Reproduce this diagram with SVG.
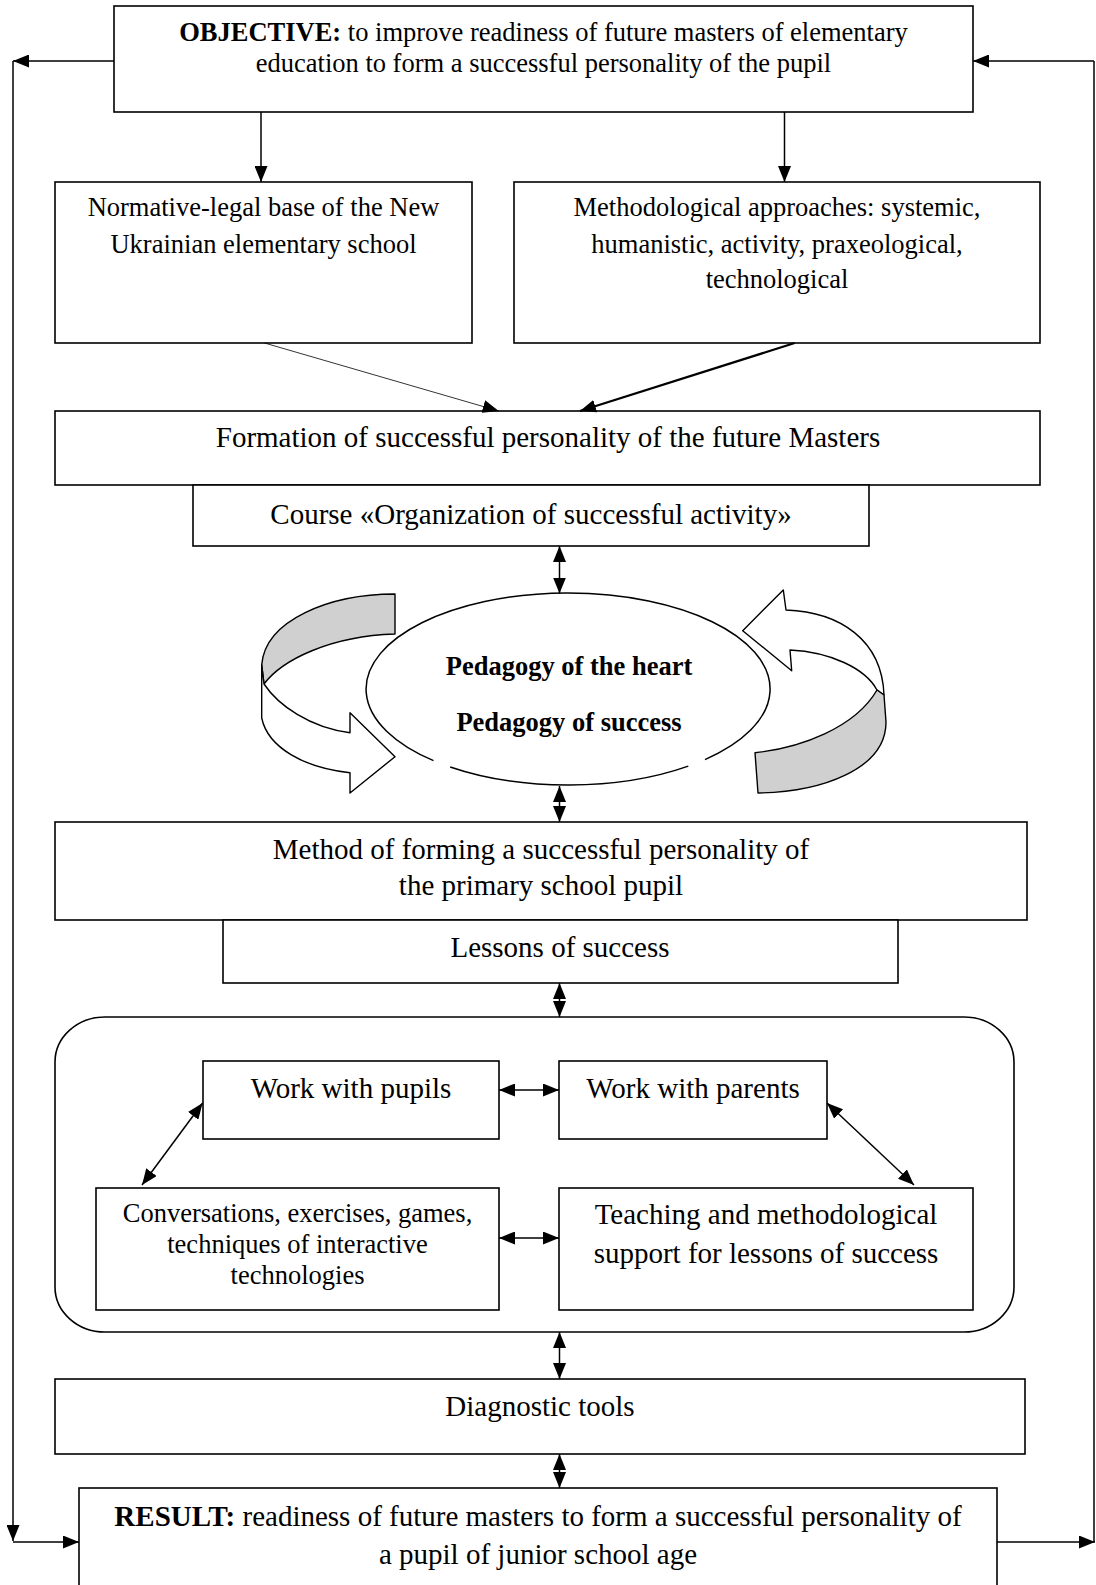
<svg xmlns="http://www.w3.org/2000/svg" width="1096" height="1585" viewBox="0 0 1096 1585">
<style>
.box{fill:#fff;stroke:#000;stroke-width:1.6}
.t{font-family:'Liberation Serif','Times New Roman',serif;text-anchor:middle;fill:#000}
.s26{font-size:26.5px}
.s29{font-size:29px}
.b{font-weight:bold}
.conn{stroke:#000;stroke-width:1.5;fill:none}
.rib{stroke:#000;stroke-width:1.4;stroke-linejoin:round}
</style>
<defs>
<marker id="ah" viewBox="0 0 16 13" refX="16" refY="6.5" markerWidth="16" markerHeight="13" markerUnits="userSpaceOnUse" orient="auto-start-reverse">
<path d="M0,0 L16,6.5 L0,13 Z" fill="#000"/>
</marker>
</defs>
<rect width="1096" height="1585" fill="#fff"/>

<g id="objective">
<rect class="box" x="114" y="6" width="859" height="106"/>
<text class="t s26" x="543.5" y="41"><tspan class="b">OBJECTIVE:</tspan> to improve readiness of future masters of elementary</text>
<text class="t s26" x="543.5" y="72">education to form a successful personality of the pupil</text>
</g>

<g id="normative">
<rect class="box" x="55" y="182" width="417" height="161"/>
<text class="t s26" x="263.5" y="216">Normative-legal base of the New</text>
<text class="t s26" x="263.5" y="253">Ukrainian elementary school</text>
</g>

<g id="methodological">
<rect class="box" x="514" y="182" width="526" height="161"/>
<text class="t s26" x="777" y="216">Methodological approaches: systemic,</text>
<text class="t s26" x="777" y="253">humanistic, activity, praxeological,</text>
<text class="t s26" x="777" y="288">technological</text>
</g>

<g id="formation">
<rect class="box" x="55" y="411" width="985" height="74"/>
<text class="t s29" x="548" y="447">Formation of successful personality of the future Masters</text>
</g>

<g id="course">
<rect class="box" x="193" y="485" width="676" height="61"/>
<text class="t s29" x="531" y="524">Course «Organization of successful activity»</text>
</g>

<g id="pedagogy">
<path fill="#fff" stroke="#000" stroke-width="1.5" d="M450.2,767 A202,96 0 0 0 688.3,766.1 M705,759.6 A202,96 0 1 0 433.5,760.6"/>
<text class="t s26 b" x="569" y="675">Pedagogy of the heart</text>
<text class="t s26 b" x="569" y="731">Pedagogy of success</text>
</g>

<g id="cycle-left">
<path class="rib" fill="#d0d0d0" d="M395,594 C330,594 265,620 261.7,665 L264,684 C282,660 330,636 395,634 Z"/>
<path class="rib" fill="#fff" d="M264,684 C278,705 310,728 350,732.7 L350,712.7 L395,756.7 L350,793 L350,772.7 C305,768 268,748 261.7,718 L261.7,665 Z"/>
</g>

<g id="cycle-right">
<path class="rib" fill="#fff" d="M742.7,630.7 L783.3,590 L786,610 C840,612 882,640 884,695 L877,690 C865,668 830,652 790,650 L791.7,670.7 Z"/>
<path class="rib" fill="#d0d0d0" d="M877,690 C855,728 800,748 755,752.7 L758,793 C820,792 886,770 886,722 L884,695 Z"/>
</g>

<g id="method">
<rect class="box" x="55" y="822" width="972" height="98"/>
<text class="t s29" x="541" y="859">Method of forming a successful personality of</text>
<text class="t s29" x="541" y="895">the primary school pupil</text>
</g>

<g id="lessons">
<rect class="box" x="223" y="920" width="675" height="63"/>
<text class="t s29" x="560" y="957">Lessons of success</text>
</g>

<g id="work-area">
<rect fill="none" stroke="#000" stroke-width="1.6" x="55" y="1017" width="959" height="315" rx="50" ry="45"/>
</g>

<g id="pupils">
<rect class="box" x="203" y="1061" width="296" height="78"/>
<text class="t s29" x="351" y="1098">Work with pupils</text>
</g>

<g id="parents">
<rect class="box" x="559" y="1061" width="268" height="78"/>
<text class="t s29" x="693" y="1098">Work with parents</text>
</g>

<g id="conversations">
<rect class="box" x="96" y="1188" width="403" height="122"/>
<text class="t s26" x="297.5" y="1222">Conversations, exercises, games,</text>
<text class="t s26" x="297.5" y="1253">techniques of interactive</text>
<text class="t s26" x="297.5" y="1284">technologies</text>
</g>

<g id="teaching">
<rect class="box" x="559" y="1188" width="414" height="122"/>
<text class="t s29" x="766" y="1224">Teaching and methodological</text>
<text class="t s29" x="766" y="1263">support for lessons of success</text>
</g>

<g id="diagnostic">
<rect class="box" x="55" y="1379" width="970" height="75"/>
<text class="t s29" x="540" y="1416">Diagnostic tools</text>
</g>

<g id="result">
<rect class="box" x="79" y="1488" width="918" height="120"/>
<text class="t s29" x="538" y="1526"><tspan class="b">RESULT:</tspan> readiness of future masters to form a successful personality of</text>
<text class="t s29" x="538" y="1564">a pupil of junior school age</text>
</g>

<g id="connectors">
<line class="conn" x1="114" y1="61" x2="13" y2="61" marker-end="url(#ah)"/>
<line class="conn" x1="13" y1="61" x2="13" y2="1541" marker-end="url(#ah)"/>
<line class="conn" x1="13" y1="1542" x2="79" y2="1542" marker-end="url(#ah)"/>
<line class="conn" x1="997" y1="1542" x2="1095" y2="1542" marker-end="url(#ah)"/>
<line class="conn" x1="1094" y1="1542" x2="1094" y2="61"/>
<line class="conn" x1="1094" y1="61" x2="973" y2="61" marker-end="url(#ah)"/>
<line class="conn" x1="261" y1="112" x2="261" y2="182" marker-end="url(#ah)"/>
<line class="conn" x1="784.5" y1="112" x2="784.5" y2="182" marker-end="url(#ah)"/>
<line stroke="#000" stroke-width="0.8" x1="264.5" y1="343" x2="498.7" y2="411" marker-end="url(#ah)"/>
<line stroke="#000" stroke-width="2.2" x1="794.7" y1="343" x2="580" y2="411" marker-end="url(#ah)"/>
<line class="conn" x1="559.5" y1="546" x2="559.5" y2="593.5" marker-start="url(#ah)" marker-end="url(#ah)"/>
<line class="conn" x1="559.5" y1="786" x2="559.5" y2="822" marker-start="url(#ah)" marker-end="url(#ah)"/>
<line class="conn" x1="559.5" y1="983" x2="559.5" y2="1017" marker-start="url(#ah)" marker-end="url(#ah)"/>
<line class="conn" x1="559.5" y1="1332" x2="559.5" y2="1379" marker-start="url(#ah)" marker-end="url(#ah)"/>
<line class="conn" x1="559.5" y1="1454" x2="559.5" y2="1488" marker-start="url(#ah)" marker-end="url(#ah)"/>
<line class="conn" x1="499" y1="1090" x2="559" y2="1090" marker-start="url(#ah)" marker-end="url(#ah)"/>
<line class="conn" x1="499" y1="1238" x2="559" y2="1238" marker-start="url(#ah)" marker-end="url(#ah)"/>
<line class="conn" x1="202.6" y1="1103" x2="142" y2="1185" marker-start="url(#ah)" marker-end="url(#ah)"/>
<line class="conn" x1="827" y1="1103" x2="914" y2="1185" marker-start="url(#ah)" marker-end="url(#ah)"/>
</g>
</svg>
